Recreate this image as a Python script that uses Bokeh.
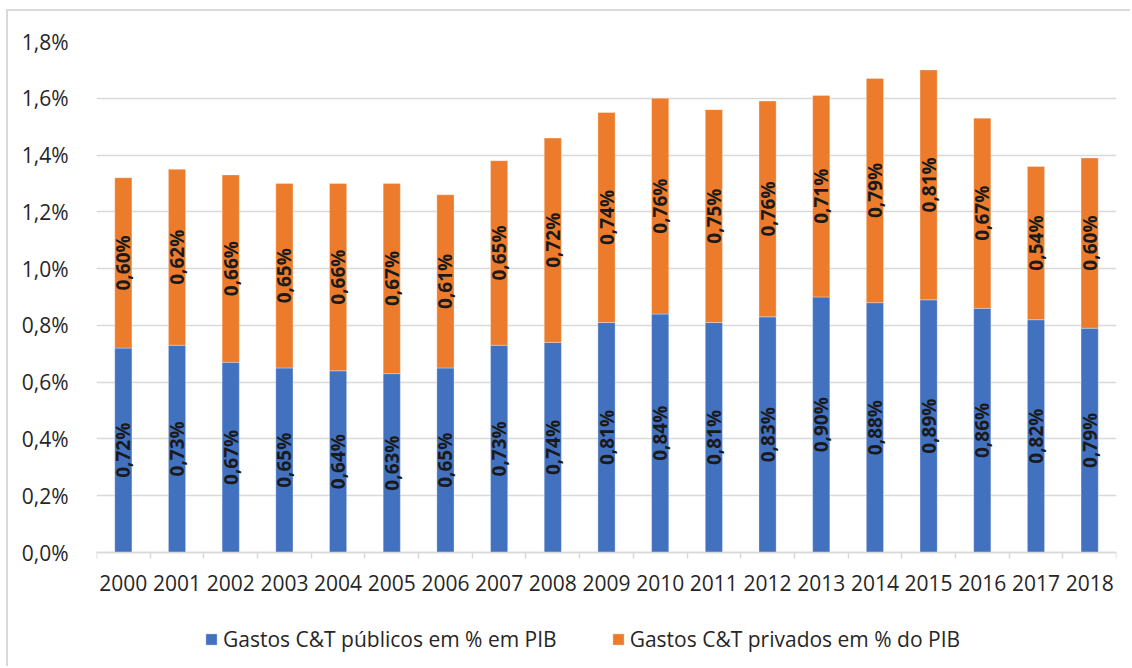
import math
from bokeh.plotting import figure
from bokeh.models import (Range1d, FixedTicker, Legend, LegendItem, ColumnDataSource)
from bokeh.core.properties import value
from bokeh.embed import file_html
from bokeh.resources import INLINE

years = ["2000", "2001", "2002", "2003", "2004", "2005", "2006", "2007", "2008", "2009",
         "2010", "2011", "2012", "2013", "2014", "2015", "2016", "2017", "2018"]
publicos = [0.72, 0.73, 0.67, 0.65, 0.64, 0.63, 0.65, 0.73, 0.74, 0.81,
            0.84, 0.81, 0.83, 0.90, 0.88, 0.89, 0.86, 0.82, 0.79]
privados = [0.60, 0.62, 0.66, 0.65, 0.66, 0.67, 0.61, 0.65, 0.72, 0.74,
            0.76, 0.75, 0.76, 0.71, 0.79, 0.81, 0.67, 0.54, 0.60]
y_ticks = [0.0, 0.2, 0.4, 0.6, 0.8, 1.0, 1.2, 1.4, 1.6, 1.8]
y_tick_labels = ["0,0%", "0,2%", "0,4%", "0,6%", "0,8%", "1,0%", "1,2%", "1,4%", "1,6%", "1,8%"]
serie_pub = "Gastos C&T públicos em % em PIB"
serie_priv = "Gastos C&T privados em % do PIB"

BLUE = "#4271C0"
ORANGE = "#EC7C2C"
TXT = "#262626"
GRID = "#D9D9D9"
FONT = "Open Sans"

x = list(range(len(years)))
top_total = [a + b for a, b in zip(publicos, privados)]
src = ColumnDataSource(dict(
    x=x, pub=publicos, priv=privados, total=top_total,
    pub_mid=[a / 2 for a in publicos],
    priv_mid=[a + b / 2 for a, b in zip(publicos, privados)],
    pub_lbl=[("%.2f%%" % v).replace(".", ",") for v in publicos],
    priv_lbl=[("%.2f%%" % v).replace(".", ",") for v in privados],
))

# frame extends below zero so the legend can sit inside it; the x axis is pinned at 0
p = figure(width=1124, height=657, output_backend="svg", toolbar_location=None,
           x_range=Range1d(-0.5, len(years) - 0.5), y_range=Range1d(-0.3945, 1.8),
           min_border_left=88, min_border_right=16, min_border_top=30, min_border_bottom=4)
p.styles = {"border-left": "2px solid #D9D9D9", "border-top": "2px solid #D9D9D9",
            "margin-top": "9px", "margin-left": "6px"}
p.outline_line_color = None
p.background_fill_color = "white"
p.border_fill_color = "white"

r1 = p.vbar(x="x", bottom=0, top="pub", width=0.32, source=src, fill_color=BLUE,
            line_color="white", line_alpha=0.3, line_width=1)
r2 = p.vbar(x="x", bottom="pub", top="total", width=0.32, source=src, fill_color=ORANGE,
            line_color="white", line_alpha=0.3, line_width=1)

for ycol, lcol in (("pub_mid", "pub_lbl"), ("priv_mid", "priv_lbl")):
    p.text(x="x", y=ycol, text=lcol, source=src, angle=math.pi / 2,
           text_align="center", text_baseline="middle", text_font=value(FONT),
           text_font_style="bold", text_font_size="19px", text_color="#1a1a1a")

# axes
p.xgrid.grid_line_color = None
p.ygrid.grid_line_color = GRID
p.ygrid.grid_line_width = 1.3
p.ygrid.ticker = FixedTicker(ticks=y_ticks)

p.yaxis.ticker = FixedTicker(ticks=y_ticks)
p.yaxis.major_label_overrides = {t: l for t, l in zip(y_ticks, y_tick_labels)}
p.yaxis.axis_line_color = None
p.yaxis.major_tick_line_color = None
p.yaxis.minor_tick_line_color = None
p.yaxis.major_label_standoff = 22
p.yaxis.major_label_text_font = FONT
p.yaxis.major_label_text_font_size = "21px"
p.yaxis.major_label_text_color = TXT

p.xaxis.fixed_location = 0
p.xaxis.ticker = FixedTicker(ticks=x, minor_ticks=[i - 0.5 for i in range(len(years) + 1)])
p.xaxis.major_label_overrides = {i: y for i, y in enumerate(years)}
p.xaxis.axis_line_color = GRID
p.xaxis.axis_line_width = 1.5
p.xaxis.major_tick_line_color = None
p.xaxis.minor_tick_line_color = GRID
p.xaxis.minor_tick_line_width = 1.5
p.xaxis.minor_tick_out = 6
p.xaxis.minor_tick_in = 0
p.xaxis.major_label_standoff = 16
p.xaxis.major_label_text_font = FONT
p.xaxis.major_label_text_font_size = "21px"
p.xaxis.major_label_text_color = TXT

legend = Legend(items=[LegendItem(label=serie_pub, renderers=[r1]),
                       LegendItem(label=serie_priv, renderers=[r2])],
                orientation="horizontal", location=(108, 11),
                glyph_width=14, glyph_height=14, label_standoff=5, spacing=54,
                padding=0, margin=0, border_line_color=None, background_fill_alpha=0,
                label_text_font=FONT, label_text_font_size="21px", label_text_color=TXT)
p.add_layout(legend, "center")

open("out.html", "w").write(file_html(p, INLINE))
